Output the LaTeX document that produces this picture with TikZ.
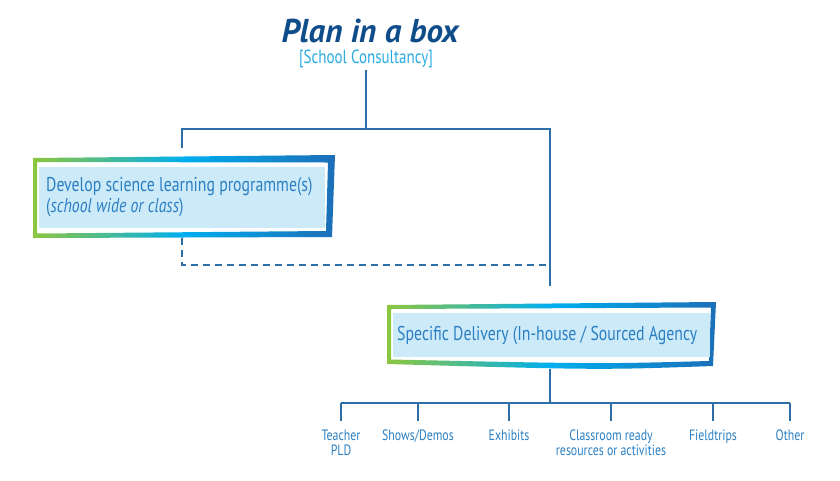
\documentclass[tikz,border=0pt]{standalone}
\usepackage{fontspec}
\setmainfont{PT Sans}
\newfontfamily\cond[FakeStretch=0.79]{PT Sans}
\newfontfamily\titlefont{PT Sans}
\definecolor{linec}{HTML}{2E6EA6}
\definecolor{titlec}{HTML}{0F4C8A}
\definecolor{subc}{HTML}{29ABE2}
\definecolor{textc}{HTML}{2A7FC3}
\definecolor{gframeA}{HTML}{8DC63F}
\definecolor{gframeB}{HTML}{00AEEF}
\definecolor{gframeC}{HTML}{1C6FB8}
\definecolor{boxfillc}{HTML}{CDEAF8}
\tikzset{
  conn/.style={draw=linec, line width=1.6pt},
  dconn/.style={draw=linec, line width=1.6pt, dash pattern=on 7pt off 5pt},
  gframe/.style={even odd rule, left color=gframeA, right color=gframeC, middle color=gframeB},
  boxfill/.style={fill=boxfillc},
  boxtext/.style={text=textc, font=\cond\fontsize{20}{21}\selectfont, anchor=west, inner sep=0pt, align=left},
  leaf/.style={text=textc, font=\cond\fontsize{15}{15}\selectfont, anchor=north, inner sep=0pt, align=center},
  area/.style={inner sep=0pt, rectangle}
}
\begin{document}
\begin{tikzpicture}[x=1pt,y=-1pt]
\useasboundingbox (0,0) rectangle (840,480);
% title
\node[text=titlec, font=\titlefont\fontsize{33}{36}\selectfont\bfseries\itshape, inner sep=0pt, anchor=base, text depth=0pt] (title) at (370,42) {Plan in a box};
\node[text=subc, font=\cond\fontsize{19}{20}\selectfont, inner sep=0pt, anchor=base, text height=12pt] (sub) at (366,63) {[School Consultancy]};
% box 1
\node[area, minimum width=302pt, minimum height=83pt] (b1) at (184,196.5) {};
\shade[gframe] (33,158) -- (335,155) -- (332,237) -- (33,238) -- cycle
               (37,162) -- (328,162.5) -- (326,231) -- (37,233.5) -- cycle;
\fill[boxfill] (38.5,167) rectangle (325,228);
\node[boxtext] (t1) at (46,197) {Develop science learning programme(s)\\(\textit{school wide or class})};
% box 2
\node[area, minimum width=329pt, minimum height=68pt] (b2) at (551.5,336) {};
\shade[gframe] (387,305) -- (716,302) -- (713,366) .. controls (600,370) .. (387,364) -- cycle
               (391,309) -- (711,307.5) -- (709,361) .. controls (600,364) .. (391,359.5) -- cycle;
\fill[boxfill] (393,312.5) rectangle (710,357);
\node[boxtext] (t2) at (397,336) {Specific Delivery (In-house / Sourced Agency};
% connectors
\coordinate (j0) at (366,129);
\coordinate (jl) at (182,129);
\coordinate (jr) at (550,129);
\coordinate (b1top) at (182,148);
\coordinate (b1bot) at (182,238);
\coordinate (dl) at (182,265);
\coordinate (dr) at (550,265);
\coordinate (b2top) at (550,286);
\coordinate (s0) at (366,70);
\draw[conn] (s0) -- (j0);
\draw[conn] (b1top) -- (jl) -- (jr) -- (b2top);
\draw[dconn] (b1bot) -- (dl) -- (dr);
% leaves
\coordinate (b2bot) at (550,369);
\coordinate (hb) at (550,403);
\foreach \n/\x/\t in {l1/341/{Teacher\\PLD}, l2/418/{Shows/Demos}, l3/509/{Exhibits}, l4/611/{Classroom ready\\resources or activities}, l5/713/{Fieldtrips}, l6/790/{Other}}{
  \node[leaf] (\n) at (\x,430) {\t};
}
\draw[conn] (b2bot) -- (hb);
\draw[conn] (l1.north |- hb) -- (l6.north |- hb);
\foreach \n in {l1,l2,l3,l4,l5,l6}{
  \draw[conn] (\n.north |- hb) -- ([yshift=9pt]\n.north);
}
\end{tikzpicture}
\end{document}
